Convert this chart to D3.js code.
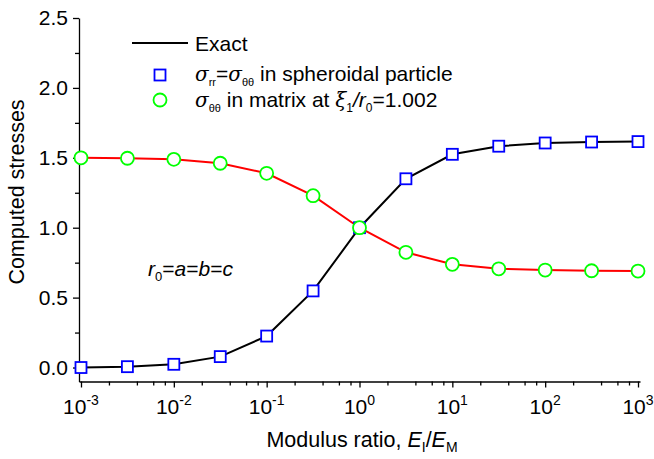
<!DOCTYPE html>
<html>
<head>
<meta charset="utf-8">
<script src="https://cdn.jsdelivr.net/npm/d3@7/dist/d3.min.js"></script>
<style>
  html, body { margin: 0; padding: 0; background: #fff; }
  svg { display: block; font-family: "Liberation Sans", Arial, sans-serif; }
</style>
</head>
<body>
<svg id="chart" width="654" height="459"></svg>
<script>
// ---- data ----
const ratioExponents = [-3, -2.5, -2, -1.5, -1, -0.5, 0, 0.5, 1, 1.5, 2, 2.5, 3];
const particleStress = [0.0, 0.006, 0.023, 0.078, 0.225, 0.548, 1.0, 1.35, 1.525, 1.583, 1.606, 1.613, 1.616];
const matrixStress   = [1.50, 1.497, 1.489, 1.461, 1.389, 1.229, 1.0, 0.824, 0.738, 0.706, 0.697, 0.692, 0.690];
const xMajorExponents = [-3, -2, -1, 0, 1, 2, 3];
const yMajorTicks = [0.0, 0.5, 1.0, 1.5, 2.0, 2.5];
const yMinorTicks = [0.25, 0.75, 1.25, 1.75, 2.25];

const svg = d3.select("#chart");
const FS = 21;

const x = d3.scaleLog().domain([Math.pow(10, -3.0215), Math.pow(10, 3.0215)]).range([79, 640]);
const y = d3.scaleLinear().domain([-0.1, 2.5]).range([381.5, 18]);

const xMinor = [];
for (let e = -3; e < 3; e++) for (const m of [2, 4, 6, 8]) xMinor.push(m * Math.pow(10, e));

// x axis
const gx = svg.append("g").attr("transform", `translate(0,${y(-0.1)})`);
gx.call(d3.axisBottom(x).tickValues(xMajorExponents.map(e => Math.pow(10, e))).tickFormat("").tickSize(6).tickSizeOuter(0));
const gxm = svg.append("g").attr("transform", `translate(0,${y(-0.1)})`);
gxm.call(d3.axisBottom(x).tickValues(xMinor).tickFormat("").tickSize(4).tickSizeOuter(0));
gxm.select(".domain").remove();
[gx, gxm].forEach(g => { g.selectAll("line,path").attr("stroke", "#000").attr("stroke-width", 1.3); });

xMajorExponents.forEach(e => {
  const t = svg.append("text").attr("x", x(Math.pow(10, e))).attr("y", 414)
    .attr("text-anchor", "middle").attr("font-size", FS).attr("fill", "#000");
  t.append("tspan").text("10");
  t.append("tspan").attr("dy", -9).attr("font-size", 14).text(String(e));
});

// y axis
const gy = svg.append("g").attr("transform", `translate(${x(Math.pow(10, -3.0215))},0)`);
gy.call(d3.axisLeft(y).tickValues(yMajorTicks).tickFormat(d3.format(".1f")).tickSize(6).tickSizeOuter(0).tickPadding(5));
const gym = svg.append("g").attr("transform", `translate(${x(Math.pow(10, -3.0215))},0)`);
gym.call(d3.axisLeft(y).tickValues(yMinorTicks).tickFormat("").tickSize(4).tickSizeOuter(0));
gym.select(".domain").remove();
[gy, gym].forEach(g => { g.selectAll("line,path").attr("stroke", "#000").attr("stroke-width", 1.3); });
gy.selectAll("text").attr("font-size", FS).attr("fill", "#000").attr("font-family", "Liberation Sans, Arial, sans-serif");

// axis titles
svg.append("text").attr("transform", "translate(24,192) rotate(-90)").attr("text-anchor", "middle")
  .attr("font-size", 21.5).attr("fill", "#000").text("Computed stresses");
const xt = svg.append("text").attr("x", 362).attr("y", 447).attr("text-anchor", "middle").attr("font-size", 21.5).attr("fill", "#000");
xt.append("tspan").text("Modulus ratio, ");
xt.append("tspan").attr("font-style", "italic").text("E");
xt.append("tspan").attr("font-size", 14).attr("dy", 5).text("I");
xt.append("tspan").attr("dy", -5).text("/");
xt.append("tspan").attr("font-style", "italic").text("E");
xt.append("tspan").attr("font-size", 14).attr("dy", 5).text("M");

// data
const pts1 = ratioExponents.map((e, i) => [Math.pow(10, e), particleStress[i]]);
const pts2 = ratioExponents.map((e, i) => [Math.pow(10, e), matrixStress[i]]);
const line = d3.line().x(d => x(d[0])).y(d => y(d[1]));

svg.append("path").attr("d", line(pts1)).attr("fill", "none").attr("stroke", "#000").attr("stroke-width", 2);
svg.append("path").attr("d", line(pts2)).attr("fill", "none").attr("stroke", "#ff0000").attr("stroke-width", 2);

const S = 11;
svg.append("g").selectAll("rect").data(pts1).join("rect")
  .attr("x", d => x(d[0]) - S / 2).attr("y", d => y(d[1]) - S / 2)
  .attr("width", S).attr("height", S).attr("fill", "#fff").attr("stroke", "#0000ff").attr("stroke-width", 1.8);
svg.append("g").selectAll("circle").data(pts2).join("circle")
  .attr("cx", d => x(d[0])).attr("cy", d => y(d[1])).attr("r", 6.5)
  .attr("fill", "#fff").attr("stroke", "#00ff00").attr("stroke-width", 1.8);

// legend
svg.append("line").attr("x1", 132).attr("x2", 188).attr("y1", 43).attr("y2", 43).attr("stroke", "#000").attr("stroke-width", 2);
svg.append("text").attr("x", 195).attr("y", 51).attr("font-size", FS).text("Exact");
svg.append("rect").attr("x", 160 - S / 2).attr("y", 75 - S / 2).attr("width", S).attr("height", S)
  .attr("fill", "#fff").attr("stroke", "#0000ff").attr("stroke-width", 1.8);
svg.append("circle").attr("cx", 160).attr("cy", 100).attr("r", 6.5)
  .attr("fill", "#fff").attr("stroke", "#00ff00").attr("stroke-width", 1.8);

const l2 = svg.append("text").attr("x", 195).attr("y", 81).attr("font-size", FS);
l2.append("tspan").attr("font-style", "italic").attr("font-family", "DejaVu Serif, serif").attr("font-size", 20).text("σ");
l2.append("tspan").attr("font-size", 11).attr("dy", 5).text("rr");
l2.append("tspan").attr("dy", -5).text("=");
l2.append("tspan").attr("font-style", "italic").attr("font-family", "DejaVu Serif, serif").attr("font-size", 20).text("σ");
l2.append("tspan").attr("font-size", 11).attr("dy", 5).text("θθ");
l2.append("tspan").attr("dy", -5).text(" in spheroidal particle");

const l3 = svg.append("text").attr("x", 195).attr("y", 107).attr("font-size", FS);
l3.append("tspan").attr("font-style", "italic").attr("font-family", "DejaVu Serif, serif").attr("font-size", 20).text("σ");
l3.append("tspan").attr("font-size", 11).attr("dy", 5).text("θθ");
l3.append("tspan").attr("dy", -5).text(" in matrix at ");
l3.append("tspan").attr("font-style", "italic").attr("font-family", "DejaVu Serif, serif").attr("font-size", 20).text("ξ");
l3.append("tspan").attr("font-size", 12).attr("dy", 5).text("1");
l3.append("tspan").attr("dy", -5).attr("font-style", "italic").text("/r");
l3.append("tspan").attr("font-size", 12).attr("dy", 5).text("0");
l3.append("tspan").attr("dy", -5).text("=1.002");

// annotation
const an = svg.append("text").attr("x", 148).attr("y", 276).attr("font-size", FS);
an.append("tspan").attr("font-style", "italic").text("r");
an.append("tspan").attr("font-size", 13).attr("dy", 5).text("0");
an.append("tspan").attr("dy", -5).text("=");
an.append("tspan").attr("font-style", "italic").text("a");
an.append("tspan").text("=");
an.append("tspan").attr("font-style", "italic").text("b");
an.append("tspan").text("=");
an.append("tspan").attr("font-style", "italic").text("c");
</script>
</body>
</html>
